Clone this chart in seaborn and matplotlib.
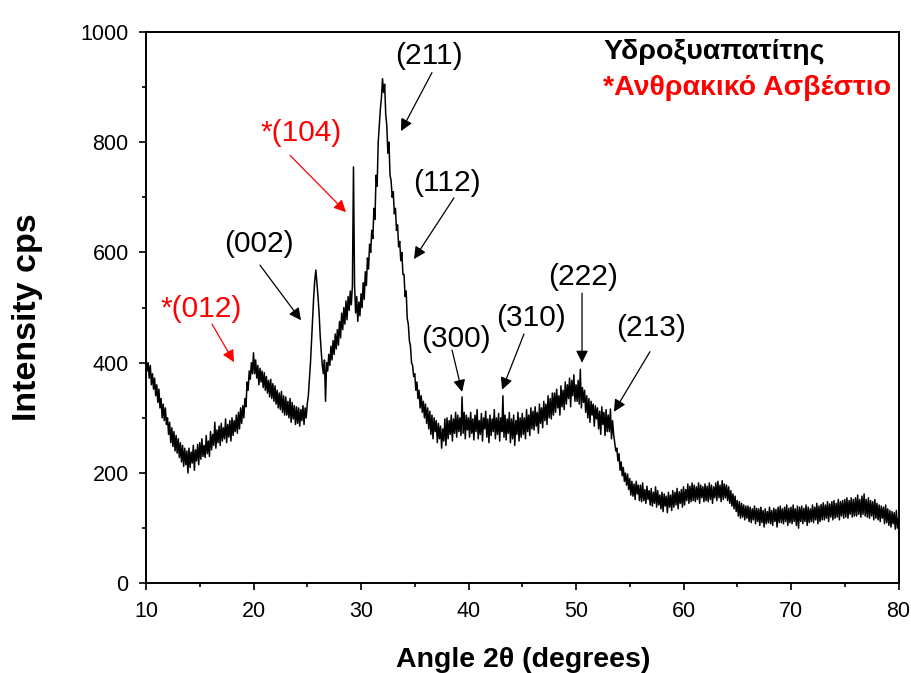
import numpy as np
import pandas as pd
import matplotlib
matplotlib.use("Agg")
import matplotlib.pyplot as plt
import seaborn as sns

# ---- data (2theta scan, 0.1 deg step, 10..80) ----
angle_start, angle_stop, angle_step = 10.0, 80.0, 0.1
intensity = [
    410, 385, 400, 372, 395, 360, 380, 352, 372, 340,   # 10
    360, 328, 352, 318, 335, 300, 325, 295, 318, 288,   # 11
    300, 270, 292, 255, 282, 248, 275, 240, 268, 236,   # 12
    262, 228, 255, 220, 250, 212, 245, 215, 240, 200,   # 13
    245, 210, 238, 218, 250, 205, 242, 222, 252, 215,   # 14
    255, 225, 262, 230, 250, 228, 268, 235, 258, 230,   # 15
    275, 242, 270, 250, 292, 245, 278, 255, 285, 250,   # 16
    290, 258, 282, 262, 298, 255, 288, 265, 295, 258,   # 17
    300, 268, 295, 275, 305, 272, 310, 280, 318, 290,   # 18
    322, 300, 335, 320, 365, 350, 385, 370, 400, 380,   # 19
    418, 380, 405, 372, 395, 360, 390, 365, 385, 355,   # 20
    382, 350, 375, 345, 368, 338, 370, 335, 362, 330,   # 21
    358, 325, 350, 318, 345, 315, 348, 310, 340, 305,   # 22
    338, 305, 330, 300, 335, 292, 328, 298, 322, 288,   # 23
    320, 290, 318, 285, 315, 295, 322, 288, 318, 300,   # 24
    325, 340, 370, 400, 440, 480, 520, 550, 568, 545,   # 25
    520, 490, 450, 420, 395, 380, 405, 330, 400, 385,   # 26
    415, 395, 430, 405, 440, 415, 452, 425, 460, 432,   # 27
    475, 445, 490, 460, 500, 470, 512, 478, 520, 495,   # 28
    530, 505, 540, 755, 540, 490, 520, 475, 510, 485,   # 29
    525, 500, 545, 515, 565, 540, 590, 570, 615, 600,   # 30
    640, 625, 680, 660, 740, 720, 800, 830, 860, 880,   # 31
    915, 890, 905, 850, 830, 780, 800, 740, 730, 700,   # 32
    710, 670, 680, 640, 650, 610, 620, 585, 600, 560,   # 33
    560, 520, 530, 480, 470, 440, 430, 400, 395, 375,   # 34
    380, 350, 365, 335, 350, 318, 340, 310, 330, 300,   # 35
    325, 290, 318, 280, 312, 270, 305, 262, 300, 275,   # 36
    295, 255, 290, 262, 285, 245, 280, 258, 298, 250,   # 37
    300, 262, 295, 270, 305, 258, 298, 272, 310, 265,   # 38
    305, 275, 300, 268, 338, 272, 310, 262, 305, 278,   # 39
    300, 265, 310, 272, 298, 260, 305, 275, 315, 262,   # 40
    295, 270, 308, 258, 300, 280, 312, 265, 298, 255,   # 41
    305, 268, 298, 275, 315, 262, 300, 270, 308, 258,   # 42
    300, 275, 340, 265, 305, 260, 298, 272, 310, 255,   # 43
    298, 262, 305, 250, 295, 270, 310, 258, 300, 265,   # 44
    308, 270, 300, 262, 315, 275, 305, 268, 318, 280,   # 45
    312, 278, 320, 285, 310, 272, 325, 290, 318, 282,   # 46
    330, 295, 325, 288, 340, 300, 335, 298, 345, 305,   # 47
    345, 310, 352, 318, 340, 305, 358, 320, 350, 315,   # 48
    365, 325, 360, 335, 372, 320, 368, 340, 378, 330,   # 49
    360, 330, 368, 325, 388, 318, 355, 328, 350, 310,   # 50
    340, 300, 335, 292, 330, 305, 325, 285, 322, 298,   # 51
    318, 280, 312, 270, 320, 288, 310, 268, 315, 275,   # 52
    305, 275, 316, 262, 295, 270, 255, 240, 245, 222,   # 53
    235, 205, 220, 195, 210, 185, 200, 178, 198, 170,   # 54
    190, 160, 185, 158, 180, 152, 185, 162, 178, 150,   # 55
    178, 148, 182, 150, 170, 145, 176, 152, 168, 142,   # 56
    172, 140, 165, 145, 175, 138, 168, 142, 160, 135,   # 57
    165, 130, 162, 140, 158, 128, 165, 138, 160, 132,   # 58
    168, 138, 165, 142, 172, 135, 166, 145, 170, 138,   # 59
    175, 142, 170, 150, 180, 145, 176, 148, 182, 150,   # 60
    178, 148, 175, 152, 182, 145, 178, 155, 175, 148,   # 61
    180, 150, 176, 148, 182, 152, 178, 145, 175, 155,   # 62
    182, 150, 185, 155, 178, 148, 186, 152, 180, 155,   # 63
    178, 150, 175, 145, 168, 140, 162, 135, 158, 130,   # 64
    150, 122, 148, 118, 145, 120, 142, 115, 140, 118,   # 65
    140, 112, 138, 110, 135, 115, 140, 108, 136, 112,   # 66
    135, 105, 138, 110, 132, 102, 135, 108, 130, 110,   # 67
    138, 108, 132, 105, 136, 112, 134, 102, 138, 110,   # 68
    140, 110, 135, 108, 138, 112, 142, 105, 136, 110,   # 69
    138, 108, 142, 112, 135, 105, 140, 100, 138, 112,   # 70
    140, 108, 136, 112, 142, 105, 138, 110, 135, 112,   # 71
    142, 110, 138, 115, 145, 108, 140, 112, 143, 115,   # 72
    146, 115, 142, 118, 148, 112, 144, 120, 148, 115,   # 73
    150, 118, 145, 120, 152, 115, 148, 122, 150, 118,   # 74
    152, 120, 155, 118, 150, 125, 155, 120, 152, 122,   # 75
    155, 122, 160, 125, 152, 120, 158, 125, 162, 122,   # 76
    152, 120, 155, 118, 150, 122, 148, 115, 152, 118,   # 77
    145, 115, 142, 112, 140, 118, 138, 108, 142, 110,   # 78
    135, 105, 132, 102, 130, 108, 128, 98, 132, 100,    # 79
    118,                                                # 80.0
]

# peak labels: text, label position, arrow tail, arrow head, colour
peak_labels = ["*(012)", "(002)", "*(104)", "(211)", "(112)", "(300)", "(310)", "(222)", "(213)"]
label_x = [15.12, 20.51, 24.42, 36.33, 38.00, 38.84, 45.81, 50.65, 56.98]
label_y = [497, 615, 816, 956, 726, 443, 481, 556, 463]
tail_x = [16.14, 20.60, 23.40, 36.60, 38.65, 38.47, 45.16, 50.56, 56.88]
tail_y = [470, 577, 776, 926, 699, 423, 452, 526, 420]
head_x = [18.19, 24.42, 28.60, 33.72, 34.93, 39.40, 43.12, 50.56, 53.53]
head_y = [401, 477, 673, 820, 588, 347, 351, 400, 311]
label_colors = ["red", "black", "red", "black", "black", "black", "black", "black", "black"]

legend_lines = ["Υδροξυαπατίτης", "*Ανθρακικό Ασβέστιο"]
legend_colors = ["black", "red"]

x_ticks = [10, 20, 30, 40, 50, 60, 70, 80]
y_ticks = [0, 200, 400, 600, 800, 1000]

# ---- plot ----
sns.set_theme(style="ticks")
plt.rcParams["font.family"] = ["Liberation Sans", "DejaVu Sans"]
plt.rcParams["text.color"] = "black"

angles = np.round(np.arange(angle_start, angle_stop + angle_step / 2, angle_step), 2)
df = pd.DataFrame({"angle": angles, "intensity": intensity})

fig = plt.figure(figsize=(9.12, 6.73), dpi=100)
ax = fig.add_axes([0.1601, 0.1333, 0.9852 - 0.1601, 0.9527 - 0.1333])

sns.lineplot(data=df, x="angle", y="intensity", ax=ax, color="black",
             linewidth=1.1, estimator=None, sort=False)

ax.set_xlim(10, 80)
ax.set_ylim(0, 1000)
ax.set_xticks(x_ticks)
ax.set_yticks(y_ticks)
ax.xaxis.set_minor_locator(matplotlib.ticker.MultipleLocator(5))
ax.yaxis.set_minor_locator(matplotlib.ticker.MultipleLocator(100))
ax.tick_params(which="major", direction="out", length=5, width=1.2, labelsize=15.5,
               pad=7.5, color="black", labelcolor="black")
ax.tick_params(which="minor", direction="out", length=3, width=1.2, color="black")
for s in ax.spines.values():
    s.set_visible(True)
    s.set_linewidth(1.4)
    s.set_color("black")
ax.set_xlabel("")
ax.set_ylabel("")

ax.text(0.501, -0.139, "Angle 2θ (degrees)", transform=ax.transAxes, ha="center", va="center",
        fontsize=20.5, fontweight="bold", color="black")
ax.text(-0.158, 0.483, "Intensity cps", transform=ax.transAxes, ha="center", va="center",
        rotation=90, fontsize=24.5, fontweight="bold", color="black")

for t, lx, ly, tx, ty, hx, hy, c in zip(peak_labels, label_x, label_y, tail_x, tail_y,
                                        head_x, head_y, label_colors):
    ax.text(lx, ly, t, color=c, fontsize=21.5, ha="center", va="center")
    ax.annotate("", xy=(hx, hy), xytext=(tx, ty),
                arrowprops=dict(arrowstyle="-|>", color=c, lw=0.9, mutation_scale=18,
                                shrinkA=0, shrinkB=0))

for i, (t, c) in enumerate(zip(legend_lines, legend_colors)):
    ax.text(52.51, 963 - i * 65, t, color=c, fontsize=20.5, fontweight="bold", ha="left", va="center")

fig.savefig("out.png", dpi=100)
